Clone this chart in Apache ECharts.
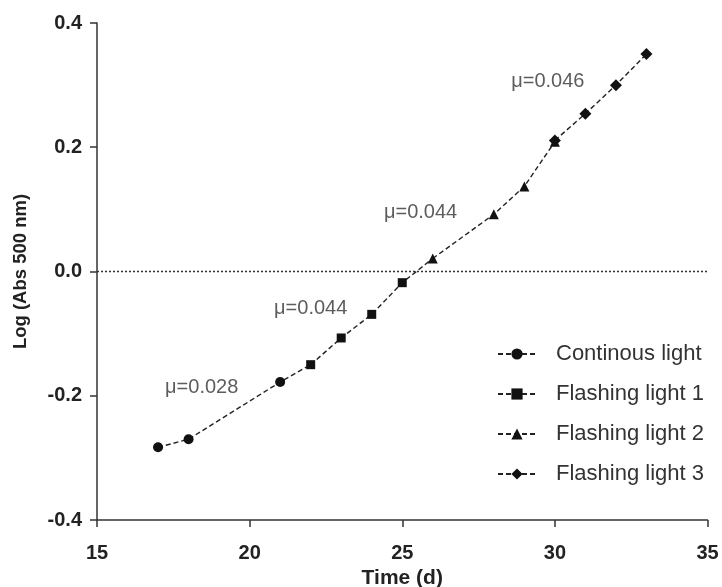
<!DOCTYPE html>
<html><head><meta charset="utf-8">
<script src="https://cdn.jsdelivr.net/npm/echarts@6/dist/echarts.min.js"></script>
<style>html,body{margin:0;padding:0;background:#fff}#c{width:722px;height:587px}</style>
</head><body><div id="c"></div>
<script>
// Data
const seriesNames = ['Continous light', 'Flashing light 1', 'Flashing light 2', 'Flashing light 3'];
const contX = [17, 18, 21];
const contY = [-0.283, -0.270, -0.178];
const flash1X = [22, 23, 24, 25];
const flash1Y = [-0.150, -0.107, -0.069, -0.018];
const flash2X = [26, 28, 29, 30];
const flash2Y = [0.021, 0.092, 0.137, 0.209];
const flash3X = [30, 31, 32, 33];
const flash3Y = [0.211, 0.254, 0.300, 0.350];
const annotX = [18.43, 22.0, 25.6, 29.77];
const annotY = [-0.187, -0.060, 0.095, 0.306];
const annotText = ['\u03bc=0.028', '\u03bc=0.044', '\u03bc=0.044', '\u03bc=0.046'];
const xTicks = [15, 20, 25, 30, 35];
const yTicks = [-0.4, -0.2, 0.0, 0.2, 0.4];

const symbols = ['circle', 'rect', 'triangle', 'diamond'];
const sizes = [10, 9, 10, 12];
const xs = [contX, flash1X, flash2X, flash3X];
const ys = [contY, flash1Y, flash2Y, flash3Y];
const FONT = 'Liberation Sans, Arial, sans-serif';

const series = seriesNames.map((name, i) => {
  const data = xs[i].map((x, k) => [x, ys[i][k]]);
  if (i < 3 && xs[i + 1][0] !== xs[i][xs[i].length - 1]) {
    data.push({ value: [xs[i + 1][0], ys[i + 1][0]], symbol: 'none' });
  }
  return {
    name, type: 'line', data, symbol: symbols[i], symbolSize: sizes[i],
    itemStyle: { color: '#111' },
    lineStyle: { color: '#222', width: 1.4, type: [5, 3] },
    z: 3 + i, animation: false
  };
});

series.push({
  name: 'annot', type: 'scatter', symbolSize: 0, silent: true, animation: false,
  data: annotX.map((x, i) => ({ value: [x, annotY[i]], label: { formatter: annotText[i] } })),
  label: { show: true, position: 'inside', fontFamily: FONT, fontSize: 20, color: '#333' },
  markLine: {
    silent: true, symbol: 'none', label: { show: false },
    lineStyle: { color: '#333', type: [2, 2], width: 1.4 },
    data: [{ yAxis: 0 }]
  }
});

const chart = echarts.init(document.getElementById('c'), null, { renderer: 'canvas' });
chart.setOption({
  backgroundColor: '#fff',
  animation: false,
  grid: { left: 97, right: 14.5, top: 23, bottom: 67, containLabel: false, outerBoundsMode: 'none' },
  xAxis: {
    type: 'value', min: xTicks[0], max: xTicks[xTicks.length - 1], interval: 5,
    name: 'Time (d)', nameLocation: 'middle', nameGap: 46,
    nameTextStyle: { fontFamily: FONT, fontWeight: 'bold', fontSize: 21, color: '#222' },
    axisLine: { onZero: false, lineStyle: { color: '#333', width: 1.5 } },
    axisTick: { length: 7, lineStyle: { color: '#333', width: 1.5 } },
    axisLabel: { margin: 23, fontFamily: FONT, fontWeight: 'bold', fontSize: 20, color: '#222' },
    splitLine: { show: false }
  },
  yAxis: {
    type: 'value', min: yTicks[0], max: yTicks[yTicks.length - 1], interval: 0.2,
    name: 'Log (Abs 500 nm)', nameLocation: 'middle', nameGap: 67, nameRotate: 90,
    nameTextStyle: { fontFamily: FONT, fontWeight: 'bold', fontSize: 18.5, color: '#222' },
    axisLine: { show: true, onZero: false, lineStyle: { color: '#333', width: 1.5 } },
    axisTick: { show: true, length: 7, lineStyle: { color: '#333', width: 1.5 } },
    axisLabel: { margin: 15, fontFamily: FONT, fontWeight: 'bold', fontSize: 20, color: '#222',
      formatter: v => v.toFixed(1) },
    splitLine: { show: false }
  },
  legend: {
    data: seriesNames, orient: 'vertical', left: 492, top: 338,
    itemWidth: 38, itemHeight: 14, itemGap: 18,
    textStyle: { fontFamily: FONT, fontSize: 22, lineHeight: 22, color: '#333', padding: [0, 0, 0, 15] }
  },
  series
});
</script></body></html>
